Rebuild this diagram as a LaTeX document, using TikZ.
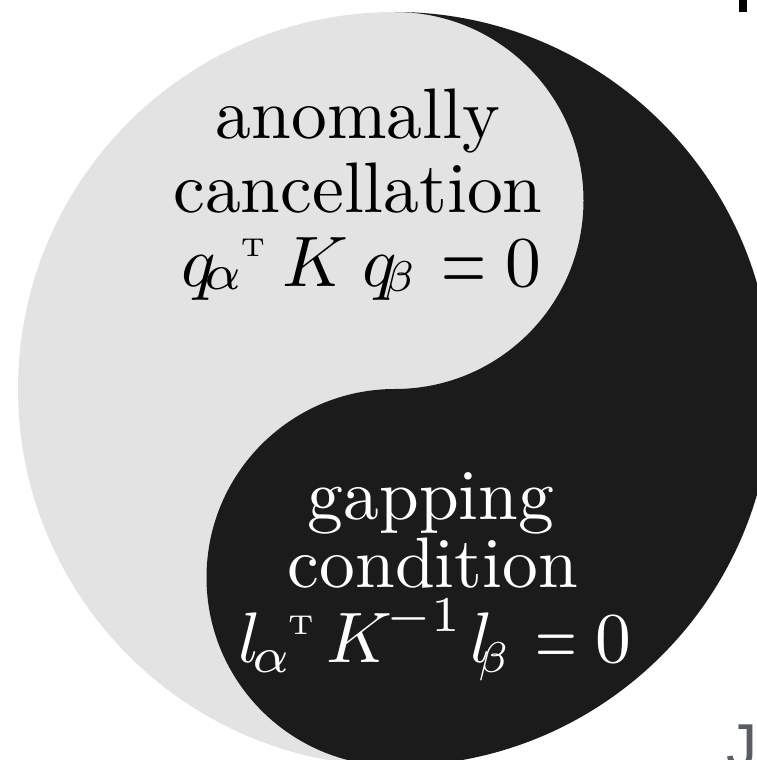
\RequirePackage{fix-cm}
\documentclass[tikz,border=0pt]{standalone}
\usepackage{fontspec}
\usepackage{graphicx}
\newfontfamily\jfont{Liberation Sans}
\definecolor{lightg}{HTML}{E3E3E3}
\definecolor{darkg}{HTML}{1B1B1B}
\definecolor{jgray}{HTML}{5A5E63}
% place a glyph at a horizontal offset and a vertical raise inside a line
\newcommand\gl[3]{\rlap{\hspace*{#1}\raisebox{#2}{#3}}}
\newcommand\tinyT[1]{{\fontsize{#1}{#1}\selectfont T}}
\newcommand\smallbeta{\scalebox{0.86}{$\scriptstyle\beta$}}
\tikzset{
  big/.style={font=\fontsize{10}{12}\selectfont, scale=7.15, inner sep=0pt, anchor=base},
  mathline/.style={big, anchor=base west},
  toptext/.style={text=black},
  bottext/.style={text=white}
}
\begin{document}
\begin{tikzpicture}[x=1pt,y=1pt]
\useasboundingbox (0,0) rectangle (757,760);
\coordinate (C) at (395,371);
% light disc
\fill[lightg] (C) circle (377);
% dark half
\fill[darkg] (395,748) arc[start angle=90, end angle=-90, radius=377]
  arc[start angle=270, end angle=90, radius=188.5]
  arc[start angle=-90, end angle=90, radius=188.5] -- cycle;
% texts
\node[big, toptext] (t1) at (358,621) {anomally};
\node[big, toptext] (t2) at (358,547) {cancellation};
\node[mathline, toptext] (t3) at (182,473) {%
  \gl{-0.3pt}{0pt}{$q$}%
  \gl{3.0pt}{-0.4pt}{$\scriptstyle\alpha$}%
  \gl{8.0pt}{4.2pt}{\tinyT{3.6}}%
  \gl{13.9pt}{0pt}{$K$}%
  \gl{25.1pt}{0pt}{$q$}%
  \gl{28.1pt}{-0.7pt}{\smallbeta}%
  \gl{36.15pt}{-0.6pt}{\scalebox{0.81}[1.28]{$=$}}%
  \gl{45.1pt}{0pt}{$0$}%
  \hspace*{50pt}};
\node[big, bottext] (b1) at (431,240) {gapping};
\node[big, bottext] (b2) at (433,172) {condition};
\node[mathline, bottext] (b3) at (240,98) {%
  \gl{-0.4pt}{0pt}{$l$}%
  \gl{1.5pt}{-1.5pt}{$\scriptstyle\alpha$}%
  \gl{6.5pt}{3.8pt}{\tinyT{3.8}}%
  \gl{11.9pt}{0pt}{$K$}%
  \gl{20.3pt}{4.2pt}{$\scriptstyle -1$}%
  \gl{32.0pt}{0pt}{$l$}%
  \gl{33.1pt}{-1.4pt}{\smallbeta}%
  \gl{41.1pt}{-0.45pt}{\scalebox{0.75}[1.16]{$=$}}%
  \gl{49.5pt}{0pt}{$0$}%
  \hspace*{54pt}};
% fragments at the edges
\fill[black] (739,748) rectangle (747,762);
\node[font=\jfont\fontsize{62}{62}\selectfont, text=jgray, inner sep=0pt, anchor=base] (J) at (742,-7) {J};
\end{tikzpicture}
\end{document}
